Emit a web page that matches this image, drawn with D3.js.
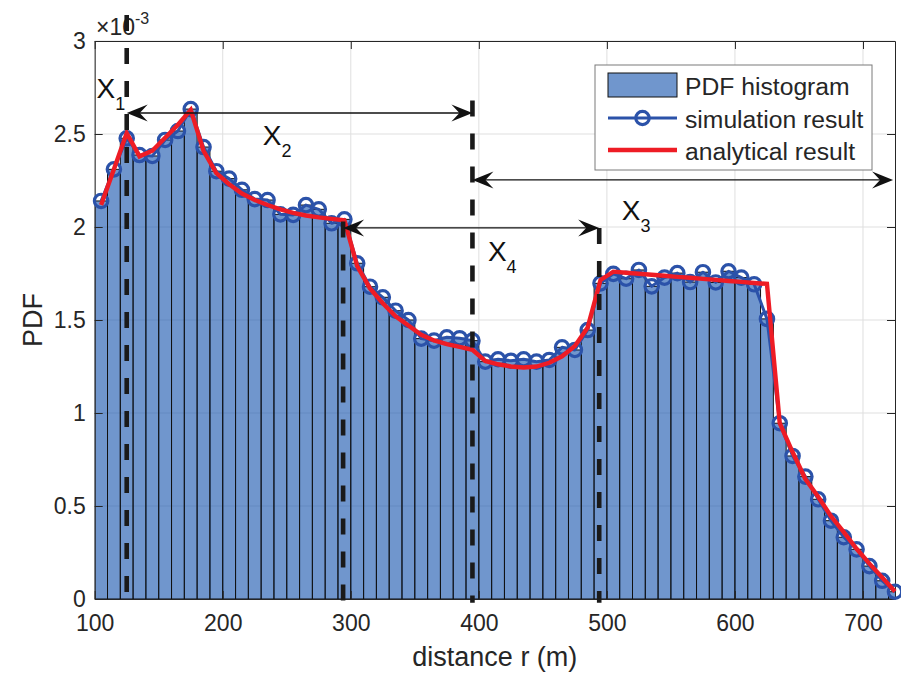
<!DOCTYPE html>
<html>
<head>
<meta charset="utf-8">
<script src="https://cdn.jsdelivr.net/npm/d3@7"></script>
<style>
  body { margin: 0; background: #ffffff; }
  svg { display: block; font-family: "Liberation Sans", Arial, Helvetica, sans-serif; }
</style>
</head>
<body>
<svg id="chart" width="901" height="679"></svg>
<script>
// Centres of the 10 m distance bins (m)
const distance = [105, 115, 125, 135, 145, 155, 165, 175, 185, 195,
                  205, 215, 225, 235, 245, 255, 265, 275, 285, 295,
                  305, 315, 325, 335, 345, 355, 365, 375, 385, 395,
                  405, 415, 425, 435, 445, 455, 465, 475, 485, 495,
                  505, 515, 525, 535, 545, 555, 565, 575, 585, 595,
                  605, 615, 625, 635, 645, 655, 665, 675, 685, 695,
                  705, 715, 725];
// Simulated PDF per bin (histogram height), in units of 1e-3
const simulated = [2.140, 2.310, 2.477, 2.387, 2.382, 2.468, 2.516, 2.634, 2.430, 2.300,
                   2.260, 2.200, 2.150, 2.145, 2.068, 2.065, 2.118, 2.095, 2.020, 2.041,
                   1.805, 1.679, 1.622, 1.550, 1.500, 1.400, 1.389, 1.407, 1.402, 1.389,
                   1.276, 1.289, 1.281, 1.289, 1.276, 1.285, 1.353, 1.339, 1.446, 1.697,
                   1.748, 1.722, 1.769, 1.681, 1.728, 1.752, 1.704, 1.757, 1.702, 1.762,
                   1.728, 1.692, 1.506, 0.945, 0.769, 0.658, 0.536, 0.421, 0.332, 0.267,
                   0.177, 0.098, 0.039];
// Analytical PDF at the same distances, in units of 1e-3
const analytical = [2.118, 2.310, 2.505, 2.380, 2.410, 2.480, 2.550, 2.630, 2.410, 2.290,
                    2.230, 2.180, 2.145, 2.118, 2.095, 2.076, 2.062, 2.052, 2.044, 2.036,
                    1.790, 1.670, 1.590, 1.520, 1.470, 1.420, 1.390, 1.370, 1.355, 1.340,
                    1.280, 1.262, 1.250, 1.245, 1.250, 1.270, 1.305, 1.360, 1.460, 1.715,
                    1.760, 1.754, 1.749, 1.743, 1.738, 1.732, 1.727, 1.721, 1.716, 1.710,
                    1.705, 1.699, 1.694, 0.945, 0.790, 0.645, 0.550, 0.445, 0.360, 0.270,
                    0.190, 0.115, 0.040];
const binWidth = 10;
const xTicks = [100, 200, 300, 400, 500, 600, 700];
const yTicks = [0, 0.5, 1, 1.5, 2, 2.5, 3];
const seriesNames = ["PDF histogram", "simulation result", "analytical result"];

// Region boundaries (m) drawn as dashed lines, with the PDF level where each starts
const boundaryR   = [125, 294, 395, 494];
const boundaryTop = [3.14, 2.03, 2.68, 1.995];

// Double arrows spanning the regions X2, X3, X4
const spanFrom  = [125, 395, 294];
const spanTo    = [395, 723.5, 494];
const spanLevel = [2.613, 2.253, 1.995];

// Region labels X1..X4
const regionSub = ["1", "2", "3", "4"];
const regionR   = [101.5, 231.2, 511.7, 407.1];
const regionPdf = [2.694, 2.441, 2.038, 1.817];

const svg = d3.select("#chart");
const textColor = "#262626";

const x = d3.scaleLinear().domain([100, 725]).range([94.7, 895]);
const y = d3.scaleLinear().domain([0, 3]).range([599, 41]);
const [x0, x1] = x.range();
const [yb, yt] = y.range();

svg.append("rect").attr("width", 901).attr("height", 679).attr("fill", "#ffffff");

svg.append("defs").append("clipPath").attr("id", "plot-clip")
  .append("rect").attr("x", x0).attr("y", yt).attr("width", x1 - x0).attr("height", yb - yt);

// grid
const grid = svg.append("g").attr("stroke", "#dfdfdf").attr("stroke-width", 1);
grid.selectAll("line.gx").data(xTicks).join("line")
  .attr("x1", d => x(d)).attr("x2", d => x(d)).attr("y1", yt).attr("y2", yb);
grid.selectAll("line.gy").data(yTicks).join("line")
  .attr("x1", x0).attr("x2", x1).attr("y1", d => y(d)).attr("y2", d => y(d));

// histogram bars
const plot = svg.append("g").attr("clip-path", "url(#plot-clip)");
plot.selectAll("rect.bar").data(distance).join("rect")
  .attr("class", "bar")
  .attr("x", d => x(d - binWidth / 2))
  .attr("width", d => x(d + binWidth / 2) - x(d - binWidth / 2))
  .attr("y", (d, i) => y(simulated[i]))
  .attr("height", (d, i) => y(0) - y(simulated[i]))
  .attr("fill", "rgb(17,80,172)")
  .attr("fill-opacity", 0.6)
  .attr("stroke", "#111111")
  .attr("stroke-width", 1);

// axes (box with inward ticks)
function styleAxis(g) {
  g.attr("font-family", null).attr("font-size", 23);
  g.selectAll("path.domain").attr("stroke", textColor).attr("stroke-width", 1);
  g.selectAll(".tick line").attr("stroke", textColor).attr("stroke-width", 1);
  g.selectAll(".tick text").attr("fill", textColor);
}
svg.append("g").attr("transform", `translate(0,${yb})`)
  .call(d3.axisBottom(x).tickValues(xTicks).tickSizeInner(-8).tickSizeOuter(0).tickPadding(16)
        .tickFormat(d3.format("d")))
  .call(styleAxis);
svg.append("g").attr("transform", `translate(0,${yt})`)
  .call(d3.axisTop(x).tickValues(xTicks).tickSizeInner(-8).tickSizeOuter(0).tickFormat(""))
  .call(styleAxis);
svg.append("g").attr("transform", `translate(${x0},0)`)
  .call(d3.axisLeft(y).tickValues(yTicks).tickSizeInner(-8).tickSizeOuter(0).tickPadding(9)
        .tickFormat(d => String(d)))
  .call(styleAxis);
svg.append("g").attr("transform", `translate(${x1},0)`)
  .call(d3.axisRight(y).tickValues(yTicks).tickSizeInner(-8).tickSizeOuter(0).tickFormat(""))
  .call(styleAxis);

// exponent label
const expo = svg.append("text").attr("x", 96).attr("y", 35).attr("fill", textColor).attr("font-size", 23);
expo.append("tspan").text("\u00d710");
expo.append("tspan").attr("dy", -11).attr("font-size", 16).text("-3");

// axis titles
svg.append("text").attr("x", (x0 + x1) / 2).attr("y", 666).attr("text-anchor", "middle")
  .attr("fill", textColor).attr("font-size", 27).text("distance r (m)");
svg.append("text").attr("transform", `translate(42,${(yt + yb) / 2}) rotate(-90)`)
  .attr("text-anchor", "middle").attr("fill", textColor).attr("font-size", 27).text("PDF");

// simulation result
const simColor = "#2b52a9";
const line = d3.line().x(d => x(d[0])).y(d => y(d[1]));
const simPts = distance.map((d, i) => [d, simulated[i]]);
const anaPts = distance.map((d, i) => [d, analytical[i]]);
svg.append("path").datum(simPts).attr("d", line)
  .attr("fill", "none").attr("stroke", simColor).attr("stroke-width", 3).attr("stroke-linejoin", "round");
svg.append("g").selectAll("circle").data(simPts).join("circle")
  .attr("cx", d => x(d[0])).attr("cy", d => y(d[1])).attr("r", 6.7)
  .attr("fill", "none").attr("stroke", simColor).attr("stroke-width", 3.2);

// analytical result
const anaColor = "#ee1c25";
svg.append("path").datum(anaPts).attr("d", line)
  .attr("fill", "none").attr("stroke", anaColor).attr("stroke-width", 4.4).attr("stroke-linejoin", "miter");

// region boundaries
svg.append("g").selectAll("line").data(boundaryR).join("line")
  .attr("x1", d => x(d)).attr("x2", d => x(d))
  .attr("y1", (d, i) => y(boundaryTop[i])).attr("y2", y(-0.02))
  .attr("stroke", "#1a1a1a").attr("stroke-width", 4.6).attr("stroke-dasharray", "16 17");

// double arrows
function headPath(tx, ty, dir) {
  const L = 21, W = 17, N = 0.62 * L;
  return `M${tx},${ty} L${tx - dir * L},${ty - W / 2} L${tx - dir * N},${ty} L${tx - dir * L},${ty + W / 2} Z`;
}
const arrows = svg.append("g");
spanFrom.forEach((r0, i) => {
  const ax0 = x(r0), ax1 = x(spanTo[i]), ay = y(spanLevel[i]);
  arrows.append("line").attr("x1", ax0 + 8).attr("x2", ax1 - 8).attr("y1", ay).attr("y2", ay)
    .attr("stroke", "#111111").attr("stroke-width", 1.3);
  arrows.append("path").attr("d", headPath(ax0, ay, -1)).attr("fill", "#111111");
  arrows.append("path").attr("d", headPath(ax1, ay, 1)).attr("fill", "#111111");
});

// region labels
regionSub.forEach((s, i) => {
  const t = svg.append("text").attr("x", x(regionR[i])).attr("y", y(regionPdf[i]))
    .attr("fill", "#111111").attr("font-size", 28);
  t.append("tspan").text("X");
  t.append("tspan").attr("dy", 12).attr("font-size", 18).text(s);
});

// legend
const lg = svg.append("g").attr("transform", "translate(595,65)");
lg.append("rect").attr("width", 277).attr("height", 105)
  .attr("fill", "#ffffff").attr("stroke", "#7a7a7a").attr("stroke-width", 1);
lg.append("rect").attr("x", 13).attr("y", 8).attr("width", 69).attr("height", 24)
  .attr("fill", "rgb(17,80,172)").attr("fill-opacity", 0.6).attr("stroke", "#111111").attr("stroke-width", 1);
lg.append("line").attr("x1", 13).attr("x2", 82).attr("y1", 53).attr("y2", 53)
  .attr("stroke", simColor).attr("stroke-width", 3);
lg.append("circle").attr("cx", 47.5).attr("cy", 53).attr("r", 6.7)
  .attr("fill", "none").attr("stroke", simColor).attr("stroke-width", 3.2);
lg.append("line").attr("x1", 13).attr("x2", 82).attr("y1", 85).attr("y2", 85)
  .attr("stroke", anaColor).attr("stroke-width", 4.4);
lg.selectAll("text").data(seriesNames).join("text")
  .attr("x", 90).attr("y", (d, i) => 30 + i * 32.5)
  .attr("fill", textColor).attr("font-size", 24.7).text(d => d);
</script>
</body>
</html>
